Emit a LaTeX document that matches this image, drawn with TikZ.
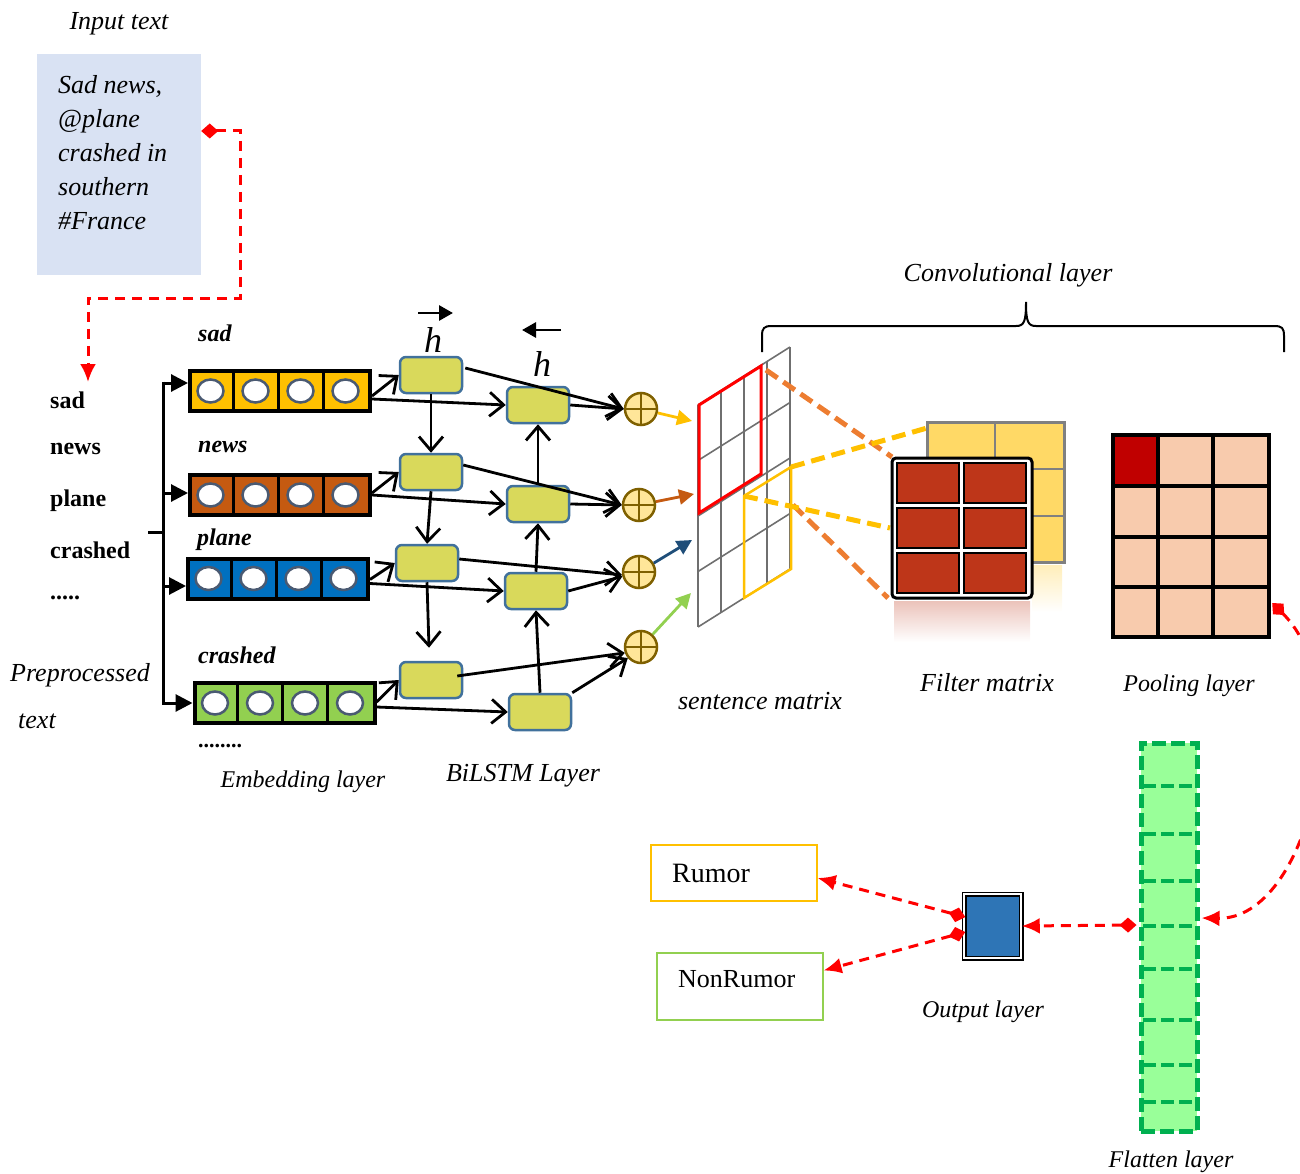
\documentclass[tikz,border=0pt]{standalone}
\usepackage{fontspec}
\setmainfont{Liberation Serif}
\usetikzlibrary{arrows.meta,calc,shapes.geometric}
\definecolor{inbg}{HTML}{D9E2F3}
\definecolor{embA}{HTML}{FFC000}
\definecolor{embB}{HTML}{C55A11}
\definecolor{embC}{HTML}{0070C0}
\definecolor{embD}{HTML}{92D050}
\definecolor{circb}{HTML}{4A5A72}
\definecolor{lstmf}{HTML}{D9D95B}
\definecolor{lstmb}{HTML}{41719C}
\definecolor{plusf}{HTML}{FFE699}
\definecolor{plusb}{HTML}{7F6000}
\definecolor{darkblue}{HTML}{1F4E79}
\definecolor{gridc}{HTML}{6F6F6F}
\definecolor{odash}{HTML}{ED7D31}
\definecolor{fyel}{HTML}{FFD966}
\definecolor{fred}{HTML}{BE3619}
\definecolor{poolc}{HTML}{F8CBAD}
\definecolor{poold}{HTML}{C00000}
\definecolor{flg}{HTML}{99FF99}
\definecolor{flb}{HTML}{00B050}
\definecolor{outb}{HTML}{2E75B6}
\begin{document}
\begin{tikzpicture}[x=1pt,y=-1pt,
  lbl/.style={font=\fontsize{26}{31}\selectfont\itshape, inner sep=0},
  lbls/.style={font=\fontsize{24}{29}\selectfont\itshape, inner sep=0},
  wordl/.style={font=\fontsize{24}{28}\selectfont\bfseries, inner sep=0, anchor=west},
  rowl/.style={font=\fontsize{24}{28}\selectfont\bfseries\itshape, inner sep=0, anchor=west},
  emb/.style={draw=black, line width=4pt, minimum width=180pt, minimum height=40pt, inner sep=0},
  circ/.style={ellipse, draw=circb, fill=white, line width=2.5pt, minimum width=26pt, minimum height=23pt, inner sep=0},
  lstm/.style={draw=lstmb, fill=lstmf, line width=2.5pt, rounded corners=6pt, minimum width=62pt, minimum height=36pt, inner sep=0},
  plus/.style={circle, draw=plusb, fill=plusf, line width=2.5pt, minimum size=32pt, inner sep=0},
  conn/.style={line width=2.8pt, -{Straight Barb[length=14pt,width=24pt]}},
  bra/.style={line width=3pt, -{Triangle[length=17pt,width=17pt]}},
  colarr/.style={line width=2.8pt, -{Triangle[length=15pt,width=15pt]}},
  reddash/.style={draw=red, line width=3pt, dash pattern=on 10pt off 7pt},
  rtips/.style={{Diamond[length=17pt,width=15pt]}-{Latex[length=18pt,width=16pt]}},
  gridl/.style={draw=gridc, line width=1.6pt},
  fdash/.style={line width=5pt, dash pattern=on 14pt off 7pt}]
\useasboundingbox (0,0) rectangle (1300,1174);
\clip (0,0) rectangle (1300,1174);

% ---------- input text ----------
\node[lbl] (tin) at (119,24) {Input text};
\node[fill=inbg, minimum width=164pt, minimum height=221pt, inner sep=0] (inp) at (119,164.5) {};
\node[anchor=north west, align=left, inner sep=0, font=\fontsize{26}{34}\selectfont\itshape] (inptxt) at (58,75) {Sad news,\\@plane\\crashed in\\southern\\\#France};
\coordinate (tgt) at (88,382);
\draw[reddash, rtips] ($(inp.east)+(0,-33.5)$) -- (240,131) -- (240,298) -- (88,298) -- (tgt);

% ---------- preprocessed words ----------
\node[wordl] (w1) at (50,400) {sad};
\node[wordl] (w2) at (50,449) {news};
\node[wordl] (w3) at (50,501) {plane};
\node[wordl] (w4) at (50,550) {crashed};
\node[wordl] (w5) at (50,598) {.....};
\node[lbl, anchor=west] (pp1) at (10,675) {Preprocessed};
\node[lbl, anchor=west] (pp2) at (18,721) {text};

% ---------- embedding rows ----------
\foreach \n/\cx/\cy/\col in {1/280/391/embA, 2/280/495/embB, 3/278/578.5/embC, 4/284.5/703/embD} {
  \node[emb, fill=\col] (e\n) at (\cx,\cy) {};
  \foreach \k in {1,2,3} \draw[line width=3pt] ($(e\n.west)+(45*\k,-20)$) -- ++(0,40);
  \foreach \k in {1,2,3,4} \node[circ] (c\n\k) at ($(e\n.west)+(45*\k-22.5,0)$) {};
}
\node[rowl] (r1) at (198,333) {sad};
\node[rowl] (r2) at (198,447) {news};
\node[rowl] (r3) at (197,540) {plane};
\node[rowl] (r4) at (198,655) {crashed};
\node[rowl, font=\fontsize{22}{26}\selectfont\bfseries] (r5) at (198,746) {........};
\node[lbls] (lemb) at (303,782) {Embedding layer};

% bracket
\coordinate (bt) at (163,381.5);
\coordinate (bb) at (163,704.5);
\coordinate (bs) at (148,532);
\draw[line width=3pt] (bs) -- (163,532);
\draw[line width=3pt] (bt) -- (bb);
\draw[bra] (163,383) -- ($(e1.west)+(0,-8)$);
\draw[bra] (163,493) -- ($(e2.west)+(0,-2)$);
\draw[bra] (163,586) -- ($(e3.west)+(0,7.5)$);
\draw[bra] (163,703) -- (e4.west);

% ---------- BiLSTM ----------
\node[lstm] (f1) at (431,375) {};
\node[lstm] (f2) at (431,472) {};
\node[lstm] (f3) at (427,563) {};
\node[lstm] (f4) at (431,680) {};
\node[lstm] (b1) at (538,405) {};
\node[lstm] (b2) at (538,504) {};
\node[lstm] (b3) at (536,591) {};
\node[lstm] (b4) at (540,712) {};
\node[plus] (p1) at (641,409) {};
\node[plus] (p2) at (639,505) {};
\node[plus] (p3) at (639,572) {};
\node[plus] (p4) at (641,647) {};
\foreach \i in {1,2,3,4} {
  \draw[plusb, line width=2.5pt] (p\i.north) -- (p\i.south) (p\i.west) -- (p\i.east);
}

\node[font=\fontsize{36}{40}\selectfont\itshape, inner sep=0] (hf) at (433,340) {h};
\node[font=\fontsize{36}{40}\selectfont\itshape, inner sep=0] (hb) at (542,364) {h};
\coordinate (hfa) at (418,313); \coordinate (hfb) at (453,313);
\coordinate (hba) at (561,330); \coordinate (hbb) at (522,330);
\draw[line width=2.8pt, -{Triangle[length=14pt,width=15pt]}] (hfa) -- (hfb);
\draw[line width=2.8pt, -{Triangle[length=14pt,width=15pt]}] (hba) -- (hbb);
\node[lbl] (lbil) at (523,776) {BiLSTM Layer};

% embedding -> lstm
\draw[conn] ($(e1.east)+(0,5)$) -- (f1.west);
\draw[conn] ($(e1.east)+(0,8)$) -- (b1.west);
\draw[conn] ($(e2.east)+(0,-2)$) -- (f2.west);
\draw[conn] ($(e2.east)+(0,0)$) -- (b2.west);
\draw[conn] ($(e3.east)+(0,1)$) -- (f3.west);
\draw[conn] ($(e3.east)+(0,5)$) -- (b3.west);
\draw[conn] ($(e4.east)+(0,-1)$) -- (f4.west);
\draw[conn] ($(e4.east)+(0,4)$) -- (b4.west);
% forward chain
\draw[conn] (f1.south) -- (f2.north);
\draw[conn] (f2.south) -- (f3.north);
\draw[conn] (f3.south) -- ($(f4.north)+(-2,-13)$);
% backward chain
\draw[conn] (b4.north) -- (b3.south);
\draw[conn] (b3.north) -- (b2.south);
\draw[conn] (b2.north) -- (b1.south);
% to plus
\draw[conn] ($(f1.east)+(2,-7)$) -- (p1.west);
\draw[conn] ($(f2.east)+(0,-7)$) -- (p2.west);
\draw[conn] ($(f3.east)+(0,-4)$) -- (p3.190);
\draw[conn] ($(f4.east)+(-6,-4)$) -- (p4.200);
\draw[conn] (b1.east) -- (p1.west);
\draw[conn] (b2.east) -- (p2.west);
\draw[conn] (b3.east) -- (p3.195);
\draw[conn] (b4.north east) -- (p4.220);

% plus -> sentence matrix
\coordinate (m1) at (692,421);
\coordinate (m2) at (694,494);
\coordinate (m3) at (692,540);
\coordinate (m4) at (691,593);
\draw[colarr, embA] (p1) -- (m1);
\draw[colarr, embB] (p2) -- (m2);
\draw[colarr, darkblue] (p3) -- (m3);
\draw[colarr, embD] (p4) -- (m4);

% ---------- sentence matrix ----------
\foreach \u in {0,...,4} \draw[gridl] (698+23*\u,405-14.5*\u) -- (698+23*\u,627-14.5*\u);
\foreach \v in {0,...,4} \draw[gridl] (698,405+55.5*\v) -- (790,347+55.5*\v);
\draw[red, line width=3pt] (699,405) -- (761,366) -- (761,474) -- (699,513) -- cycle;
\draw[embA, line width=2.5pt] (744,496) -- (791,467) -- (791,569) -- (744,598) -- cycle;
\node[lbl] (lsm) at (760,701) {sentence matrix};

% dashed projections
\draw[fdash, odash] (766,370) -- (892,457);
\draw[fdash, odash] (793,505) -- (888,598);
\draw[fdash, embA] (791,467) -- (927,428);
\draw[fdash, embA] (744,496) -- (890,528);

% ---------- filter matrix ----------
\shade[top color=fyel!45, bottom color=white] (1032,565) rectangle (1062,612);
\fill[fyel] (927,422) rectangle (1064,562);
\draw[gray, line width=3pt] (927,422) rectangle (1064,562);
\draw[gray, line width=2.5pt] (995,422) -- (995,562) (927,469) -- (1064,469) (927,516) -- (1064,516);
\shade[top color=fred!30, bottom color=white] (894,601) rectangle (1030,642);
\draw[black, line width=3pt, fill=white, rounded corners=4pt] (892,458) rectangle (1032,598);
\foreach \x in {897,964} \foreach \y in {463,508,553}
  \draw[black, line width=2.2pt, fill=fred] (\x,\y) rectangle (\x+62,\y+40);
\node[lbl] (lfm) at (987,683) {Filter matrix};

% ---------- convolutional brace ----------
\draw[line width=2pt] (762,352) -- (762,336) .. controls (762,328) and (764,326) .. (772,326)
  -- (1016,326) .. controls (1024,326) and (1026,322) .. (1026,302)
  .. controls (1026,322) and (1028,326) .. (1036,326) -- (1274,326)
  .. controls (1282,326) and (1284,328) .. (1284,336) -- (1284,352);
\node[lbl] (lconv) at (1008,275) {Convolutional layer};

% ---------- pooling ----------
\node[fill=poolc, minimum width=156pt, minimum height=202pt, inner sep=0] (pl) at (1191,536) {};
\fill[poold] (1113,435) rectangle (1158,486);
\draw[line width=4.5pt] (1158,435) -- (1158,637) (1213,435) -- (1213,637)
  (1113,486) -- (1269,486) (1113,537) -- (1269,537) (1113,587) -- (1269,587);
\draw[line width=4.5pt] (pl.north west) rectangle (pl.south east);
\node[lbls] (lpl) at (1189,686) {Pooling layer};

% ---------- flatten ----------
\node[fill=flg, draw=flb, line width=5pt, dash pattern=on 14pt off 5pt, minimum width=56pt, minimum height=388pt, inner sep=0] (fl) at (1169,937) {};
\foreach \y in {786,834,881,926,969,1020,1065,1102}
  \draw[flb, line width=4pt, dash pattern=on 13pt off 5pt] (1143,\y) -- (1195,\y);
\node[lbls] (lfl) at (1171,1162) {Flatten layer};

% ---------- output ----------
\node[fill=outb, draw=black, double=white, double distance=2pt, line width=1.5pt, minimum width=57pt, minimum height=64pt, inner sep=0] (ob) at (992.5,926) {};
\node[lbls] (lol) at (983,1012) {Output layer};
\node[draw=embA, line width=1.2pt, minimum width=166pt, minimum height=56pt, inner sep=0] (rum) at (734,873) {};
\node[font=\fontsize{28}{32}\selectfont, inner sep=0, anchor=west] (trum) at (672,873) {Rumor};
\node[draw=embD, line width=1.2pt, minimum width=166pt, minimum height=67pt, inner sep=0] (nr) at (740,986.5) {};
\node[font=\fontsize{26}{30}\selectfont, inner sep=0, anchor=west] (tnr) at (678,979) {NonRumor};

% red dashed connectors
\draw[reddash, rtips] ($(pl.east)+(3,67)$) .. controls (1360,690) and (1310,920) .. ($(fl.east)+(2,-19)$);
\draw[reddash, rtips] ($(fl.west)+(-2,-12)$) -- (ob.east);
\draw[reddash, rtips] ($(ob.west)+(2,-9)$) -- ($(rum.east)+(0,5)$);
\draw[reddash, rtips] ($(ob.west)+(2,6)$) -- ($(nr.east)+(0,-16)$);
\end{tikzpicture}
\end{document}
